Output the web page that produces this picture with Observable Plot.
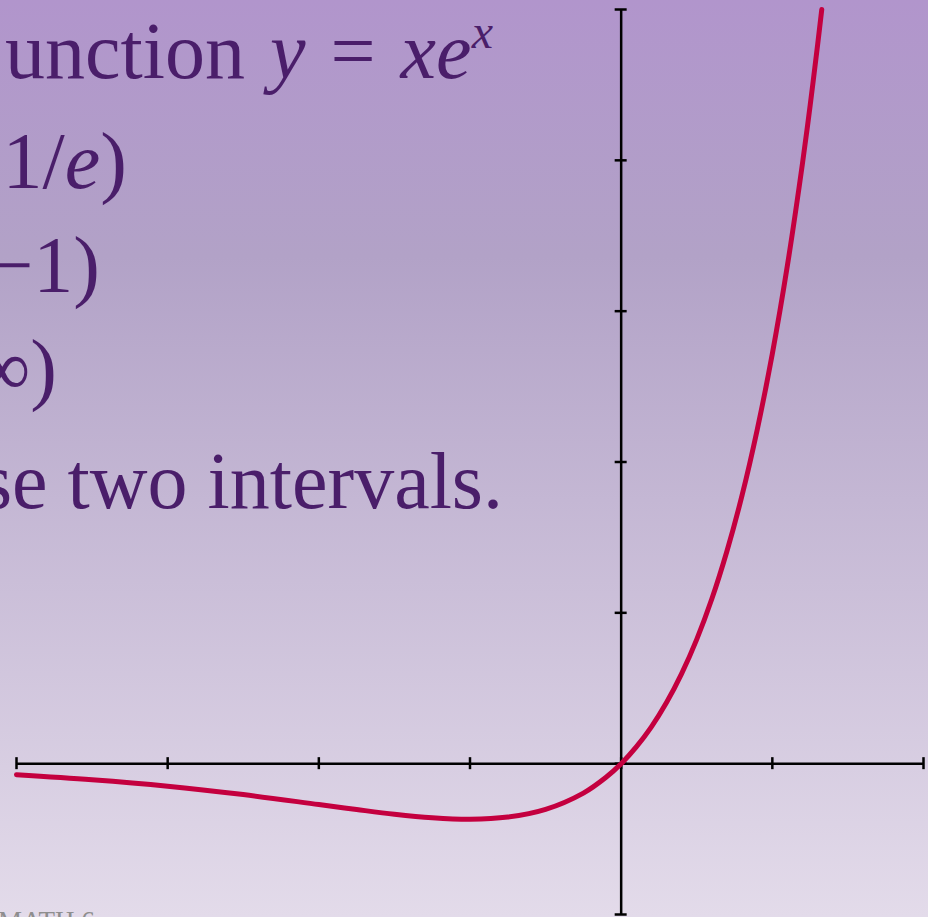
<!DOCTYPE html>
<html>
<head>
<meta charset="utf-8">
<script src="https://cdn.jsdelivr.net/npm/d3@7"></script>
<script src="https://cdn.jsdelivr.net/npm/@observablehq/plot@0.6"></script>
<style>
  html, body { margin: 0; padding: 0; }
  #slide {
    position: relative; width: 928px; height: 917px; overflow: hidden;
    background: linear-gradient(to bottom, #b195cc 0%, #b2a2c7 28%, #e3dbea 100%);
  }
  #slide svg { position: absolute; left: 0; top: 0; }
  .txt { font-family: "Liberation Serif", "Times New Roman", serif; font-size: 80px; fill: #4a1e6a; }
  .foot { font-family: "Liberation Serif", serif; font-size: 27px; fill: #8e8e8e; }
</style>
</head>
<body>
<div id="slide"></div>
<script>
// Curve y = x·e^x
const xs = [-4, -3.5, -3, -2.5, -2, -1.75, -1.5, -1.25, -1, -0.75, -0.5, -0.25, -0.1, 0, 0.1, 0.2, 0.3, 0.4, 0.5, 0.6, 0.7, 0.8, 0.9, 1.0, 1.1, 1.2, 1.25, 1.3, 1.327];
const ys = [-0.073, -0.106, -0.149, -0.205, -0.271, -0.304, -0.335, -0.358, -0.368, -0.354, -0.303, -0.195, -0.090, 0, 0.111, 0.244, 0.405, 0.597, 0.824, 1.093, 1.410, 1.780, 2.214, 2.718, 3.305, 3.984, 4.363, 4.770, 5.0];
const xTicks = [-4, -3, -2, -1, 0, 1, 2];
const yTicks = [-1, 0, 1, 2, 3, 4, 5];
const xDomain = [-4, 2];
const yDomain = [-1, 5];

const W = 928, H = 917;
const mL = 16, mR = 5, mT = 9, mB = 3;
const tickPx = 6;
const hx = tickPx * (xDomain[1] - xDomain[0]) / (W - mL - mR);
const hy = tickPx * (yDomain[1] - yDomain[0]) / (H - mT - mB);

const curve = xs.map((x, i) => ({x, y: ys[i]}));

const plot = Plot.plot({
  width: W, height: H,
  marginLeft: mL, marginRight: mR, marginTop: mT, marginBottom: mB,
  style: {background: "transparent", overflow: "visible"},
  x: {domain: xDomain, axis: null},
  y: {domain: yDomain, axis: null},
  marks: [
    Plot.ruleY([0], {stroke: "black", strokeWidth: 2.5}),
    Plot.ruleX([0], {stroke: "black", strokeWidth: 2.5}),
    Plot.ruleX(xTicks, {x: d => d, y1: -hy, y2: hy, stroke: "black", strokeWidth: 2.5}),
    Plot.ruleY(yTicks, {y: d => d, x1: -hx, x2: hx, stroke: "black", strokeWidth: 2.5}),
    Plot.line(curve, {x: "x", y: "y", stroke: "#c4003f", strokeWidth: 5, curve: "catmull-rom"})
  ]
});

const slide = document.getElementById("slide");
slide.appendChild(plot);

const ns = "http://www.w3.org/2000/svg";
const overlay = document.createElementNS(ns, "svg");
overlay.setAttribute("width", W);
overlay.setAttribute("height", H);
overlay.innerHTML = `
  <text class="txt" y="78" word-spacing="5"><tspan x="-36">f</tspan><tspan x="5">unction </tspan><tspan font-style="italic">y</tspan> = <tspan font-style="italic">xe</tspan><tspan font-style="italic" font-size="48" dy="-30">x</tspan></text>
  <text class="txt" x="127" y="188" text-anchor="end">Minimum at (−1, −  1/<tspan font-style="italic">e</tspan>)</text>
  <text class="txt" x="100" y="292" text-anchor="end">Decreasing on (−∞, −1)</text>
  <text class="txt" x="57" y="395" text-anchor="end">Increasing on (−1, ∞)</text>
  <text class="txt" x="503" y="508" text-anchor="end">Compare these two intervals.</text>
  <text class="foot" x="-2" y="930">MATH 6</text>
`;
slide.appendChild(overlay);
</script>
</body>
</html>
